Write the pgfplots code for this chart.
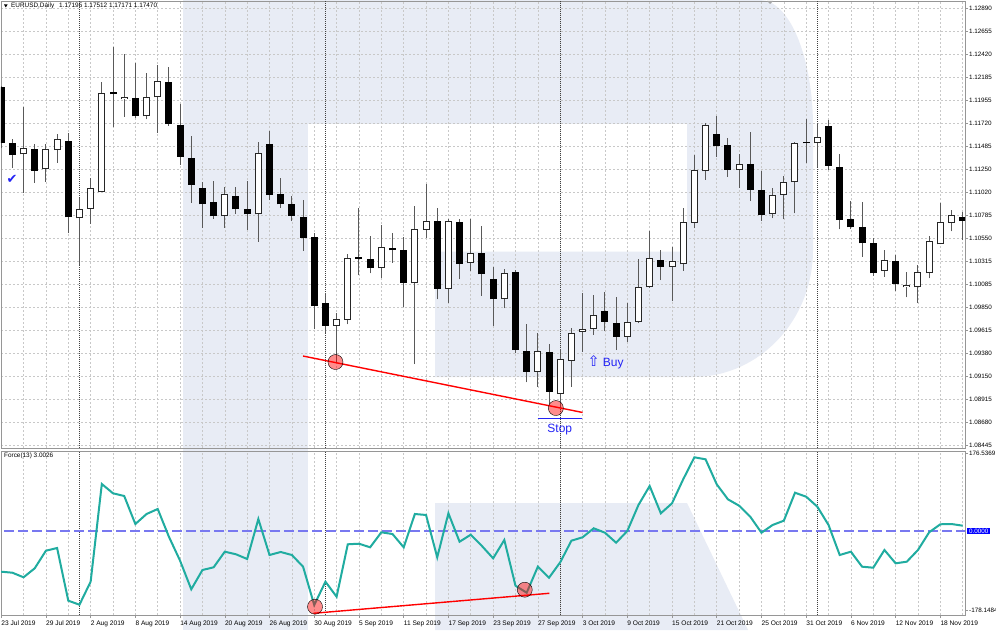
\documentclass[border=0pt]{standalone}
\usepackage{pgfplots}
\pgfplotsset{compat=1.18}
\usepackage{pgfplotstable}
\usepackage{fontspec}
\setmainfont{Liberation Sans}
\newfontfamily\dejavu{DejaVu Sans}
\definecolor{wm}{RGB}{232,236,245}
\definecolor{forceteal}{RGB}{32,172,160}
\definecolor{zeroblue}{RGB}{120,120,240}
\definecolor{mtblue}{RGB}{35,35,245}
\definecolor{gridgray}{RGB}{200,200,200}
\definecolor{framegray}{RGB}{150,150,150}

% bullish candles: index, open, high, low, close
\pgfplotstableread{
i o h l c
2 1.11404 1.11885 1.11015 1.11465
4 1.11252 1.11509 1.11126 1.11455
5 1.11448 1.11608 1.11319 1.11557
7 1.10755 1.10958 1.10280 1.10849
8 1.10849 1.11167 1.10697 1.11059
9 1.11025 1.12142 1.11022 1.12030
11 1.11963 1.12423 1.11786 1.11989
13 1.11790 1.12233 1.11760 1.11991
14 1.11983 1.12308 1.11624 1.12144
20 1.10775 1.11075 1.10659 1.11001
23 1.10795 1.11532 1.10517 1.11415
30 1.09661 1.09796 1.09285 1.09729
31 1.09725 1.10389 1.09678 1.10351
34 1.10247 1.10687 1.10153 1.10460
37 1.10095 1.10876 1.09273 1.10643
38 1.10639 1.11103 1.10552 1.10724
40 1.10037 1.10744 1.09898 1.10727
42 1.10298 1.10744 1.10222 1.10405
45 1.09932 1.10240 1.09841 1.10196
48 1.09194 1.09593 1.09045 1.09410
50 1.08969 1.09430 1.08839 1.09323
51 1.09309 1.09638 1.09045 1.09587
52 1.09603 1.09993 1.09400 1.09630
53 1.09630 1.09976 1.09570 1.09773
56 1.09552 1.09898 1.09502 1.09705
57 1.09705 1.10338 1.09688 1.10060
58 1.10055 1.10623 1.10047 1.10348
60 1.10260 1.10466 1.09910 1.10321
61 1.10287 1.10864 1.10222 1.10717
62 1.10710 1.11397 1.10653 1.11245
63 1.11232 1.11719 1.11144 1.11702
66 1.11245 1.11407 1.11065 1.11303
69 1.10795 1.11065 1.10755 1.10991
70 1.10991 1.11184 1.10744 1.11120
71 1.11120 1.11532 1.10805 1.11516
73 1.11516 1.11725 1.11278 1.11583
79 1.10219 1.10433 1.10162 1.10331
81 1.10054 1.10206 1.09952 1.10077
82 1.10054 1.10280 1.09892 1.10206
83 1.10199 1.10575 1.10145 1.10527
84 1.10491 1.10905 1.10491 1.10722
85 1.10710 1.10839 1.10623 1.10785
}\bull

% bearish candles: index, open, high, low, close
\pgfplotstableread{
i o h l c
0 1.12091 1.12098 1.11468 1.11516
1 1.11516 1.11557 1.11268 1.11397
3 1.11455 1.11506 1.11116 1.11235
6 1.11540 1.11624 1.10602 1.10765
10 1.12034 1.12497 1.11679 1.12014
12 1.11973 1.12328 1.11773 1.11790
15 1.12136 1.12286 1.11692 1.11710
16 1.11702 1.11912 1.11296 1.11380
17 1.11370 1.11590 1.10913 1.11093
18 1.11059 1.11126 1.10659 1.10895
19 1.10923 1.11133 1.10751 1.10775
21 1.10983 1.11075 1.10801 1.10844
22 1.10846 1.11136 1.10636 1.10795
24 1.11506 1.11641 1.10940 1.10991
25 1.10998 1.11161 1.10862 1.10897
26 1.10897 1.10981 1.10727 1.10778
27 1.10771 1.10940 1.10423 1.10558
28 1.10562 1.10608 1.09627 1.09864
29 1.09898 1.09991 1.09590 1.09661
32 1.10362 1.10856 1.10174 1.10341
33 1.10346 1.10575 1.10196 1.10247
35 1.10456 1.10602 1.10304 1.10430
36 1.10433 1.10560 1.09854 1.10101
39 1.10727 1.10862 1.09932 1.10037
41 1.10714 1.10744 1.10135 1.10290
43 1.10405 1.10676 1.09966 1.10186
44 1.10135 1.10257 1.09661 1.09932
46 1.10206 1.10230 1.09384 1.09417
47 1.09410 1.09678 1.09089 1.09194
49 1.09402 1.09478 1.08869 1.08991
54 1.09810 1.10009 1.09610 1.09705
55 1.09695 1.09959 1.09417 1.09552
59 1.10336 1.10433 1.10128 1.10265
64 1.11611 1.11796 1.11380 1.11492
65 1.11499 1.11567 1.11177 1.11245
67 1.11306 1.11634 1.10930 1.11042
68 1.11042 1.11235 1.10730 1.10788
72 1.11532 1.11760 1.11313 1.11516
74 1.11695 1.11753 1.11245 1.11286
75 1.11278 1.11404 1.10643 1.10737
76 1.10747 1.10930 1.10646 1.10663
77 1.10669 1.10917 1.10365 1.10501
78 1.10501 1.10552 1.10172 1.10196
80 1.10321 1.10382 1.10019 1.10087
86 1.10771 1.10819 1.10534 1.10727
}\bear

% Force index (13)
\pgfplotstableread{
i v
0 -91.6
1 -93.9
2 -104.3
3 -83.9
4 -44.2
5 -38.1
6 -157.1
7 -166.2
8 -114.2
9 106.5
10 85.5
11 79.4
12 16.1
13 38.7
14 50.0
15 -12.6
16 -66.8
17 -131.4
18 -87.8
19 -81.7
20 -46.4
21 -52.3
22 -62.9
23 27.4
24 -53.9
25 -47.1
26 -53.9
27 -80.3
28 -166.9
29 -114.2
30 -148.1
31 -29.7
32 -28.4
33 -36.5
34 -2.6
35 -6.5
36 -36.5
37 38.7
38 36.5
39 -59.1
40 40.3
41 -23.9
42 -8.0
43 -33.6
44 -61.4
45 -20.0
46 -123.3
47 -139.1
48 -80.3
49 -105.2
50 -70.4
51 -21.6
52 -13.9
53 6.4
54 -3.5
55 -26.1
56 0.3
57 59.1
58 102.0
59 40.3
60 62.9
61 117.1
62 166.8
63 162.3
64 105.8
65 71.9
66 57.5
67 32.6
68 -3.5
69 13.9
70 23.6
71 86.8
72 77.8
73 55.2
74 13.9
75 -53.9
76 -46.4
77 -80.3
78 -82.6
79 -42.6
80 -72.7
81 -69.0
82 -42.6
83 -2.6
84 15.5
85 16.1
86 12.3
}\force

\pgfplotsset{
  mt/.style={
    scale only axis, anchor=south west, width=964pt,
    xmin=-0.018, xmax=86.207,
    axis line style={framegray, line width=0.8pt},
    grid style={gridgray, line width=0.6pt, dash pattern=on 2pt off 2pt},
    tick style={framegray, line width=0.6pt},
    ytick pos=right, tick align=outside, major tick length=3pt,
    yticklabel style={font=\fontsize{6.3}{7}\selectfont, anchor=west, inner sep=0pt, xshift=1pt},
    /pgf/number format/assume math mode=true,
    extra x ticks={7,29,50,73}, extra x tick labels={},
    extra x tick style={grid=major, major grid style={black!75, line width=0.7pt, dash pattern=on 1pt off 1pt}, major tick length=0pt},
  },
}

\begin{document}
\begin{tikzpicture}
\useasboundingbox (0pt,0pt) rectangle (996pt,630pt);
\fill[white] (0pt,0pt) rectangle (996pt,630pt);
% watermark logo
\fill[wm] (183pt,0pt) rectangle (308pt,630pt);
\fill[wm] (183pt,630pt) -- (760pt,630pt) arc[start angle=90,end angle=0,x radius=53pt,y radius=127pt]
  -- (813pt,380pt) arc[start angle=0,end angle=-90,x radius=120pt,y radius=127pt]
  -- (435pt,253pt) -- (435pt,378.3pt) -- (687pt,378.3pt) -- (687pt,506pt) -- (183pt,506pt) -- cycle;
\fill[wm] (435pt,0pt) -- (435pt,127pt) -- (687pt,127pt) -- (748pt,0pt) -- cycle;

% ---------------- price panel
\begin{axis}[mt, at={(1pt,182pt)}, height=447pt,
  ymin=1.084222, ymax=1.12961,
  xtick={0,2,...,86}, xticklabels={}, xtick style={draw=none}, xmajorgrids,
  ytick={1.08445,1.08680,1.08915,1.09150,1.09380,1.09615,1.09850,1.10085,1.10315,1.10550,1.10785,1.11020,1.11250,1.11485,1.11720,1.11955,1.12185,1.12420,1.12655,1.12890},
  yticklabels={1.08445,1.08680,1.08915,1.09150,1.09380,1.09615,1.09850,1.10085,1.10315,1.10550,1.10785,1.11020,1.11250,1.11485,1.11720,1.11955,1.12185,1.12420,1.12655,1.12890},
  ymajorgrids,
]
% wicks
\addplot[draw=none, mark=none, forget plot, error bars/.cd, y dir=plus, y explicit, error mark=none,
  error bar style={draw=black!65, line width=1pt}] table[x=i, y=l, y error expr=\thisrow{h}-\thisrow{l}] \bull;
\addplot[draw=none, mark=none, forget plot, error bars/.cd, y dir=plus, y explicit, error mark=none,
  error bar style={draw=black!65, line width=1pt}] table[x=i, y=l, y error expr=\thisrow{h}-\thisrow{l}] \bear;
% bodies
\addplot[draw=none, mark=none, forget plot, error bars/.cd, y dir=plus, y explicit, error mark=none,
  error bar style={draw=black, line width=7pt}] table[x=i, y=c, y error expr=\thisrow{o}-\thisrow{c}] \bear;
\addplot[draw=none, mark=none, forget plot, error bars/.cd, y dir=plus, y explicit, error mark=none,
  error bar style={draw=black!85, line width=7pt}] table[x=i, y=o, y error expr=\thisrow{c}-\thisrow{o}] \bull;
\addplot[draw=none, mark=none, forget plot, error bars/.cd, y dir=plus, y explicit, error mark=none,
  error bar style={draw=white, line width=5pt, shorten <=1pt, shorten >=1pt}] table[x=i, y=o, y error expr=\thisrow{c}-\thisrow{o}] \bull;
% divergence line and points
\addplot[red, line width=1.4pt, forget plot] coordinates {(27.0,1.09356) (52.0,1.08783)};
\addplot[only marks, mark=*, mark size=7.5pt, mark options={draw=none, fill=red, fill opacity=0.45}, forget plot]
  coordinates {(29.90,1.09295) (49.61,1.08828)};
% stop line
\addplot[mtblue, line width=1.2pt, forget plot] coordinates {(47.99,1.08724) (51.98,1.08724)};
\node[text=mtblue, font=\fontsize{12}{12}\selectfont] at (axis cs:49.96,1.08605) {Stop};
\node[text=mtblue, anchor=west, inner sep=0pt, font=\fontsize{12}{12}\selectfont] at (axis cs:52.44,1.09288) {{\dejavu\fontsize{14.5}{14}\selectfont ⇧}\hspace{3pt}Buy};
\node[text=mtblue, font=\dejavu\fontsize{13}{13}\selectfont] at (axis cs:0.97,1.11154) {✔};
\end{axis}

% ---------------- Force panel
\begin{axis}[mt, at={(1pt,15pt)}, height=164pt,
  ymin=-189.45, ymax=181.05,
  xtick={0,4,...,84},
  xticklabels={23 Jul 2019,29 Jul 2019,2 Aug 2019,8 Aug 2019,14 Aug 2019,20 Aug 2019,26 Aug 2019,30 Aug 2019,5 Sep 2019,11 Sep 2019,17 Sep 2019,23 Sep 2019,27 Sep 2019,3 Oct 2019,9 Oct 2019,15 Oct 2019,21 Oct 2019,25 Oct 2019,31 Oct 2019,6 Nov 2019,12 Nov 2019,18 Nov 2019},
  minor xtick={2,6,...,86}, xmajorgrids, xminorgrids, minor grid style={gridgray, line width=0.6pt, dash pattern=on 2pt off 2pt},
  minor tick length=0pt, xtick pos=bottom,
  xticklabel style={font=\fontsize{6.6}{8}\selectfont, anchor=north west, inner sep=0pt, yshift=-3pt},
  ytick={-178.1484,176.5369}, yticklabels={-178.1484,176.5369},
]
\addplot[zeroblue, line width=1.3pt, dash pattern=on 10pt off 4pt, forget plot] coordinates {(-1,0) (88,0)};
\addplot[forceteal, line width=2pt, forget plot] table[x=i, y=v] \force;
\addplot[red, line width=1.4pt, forget plot] coordinates {(27.92,-185.6) (49.03,-140.4)};
\addplot[only marks, mark=*, mark size=7.5pt, mark options={draw=none, fill=red, fill opacity=0.45}, forget plot]
  coordinates {(28.07,-170.7) (46.83,-132.3)};
\end{axis}

% texts outside plot data
\fill[black] (4pt,625.5pt) -- (7.6pt,625.5pt) -- (5.8pt,622.5pt) -- cycle;
\node[anchor=west, inner sep=0pt, font=\fontsize{6.4}{7}\selectfont] at (11pt,624pt) {EURUSD,Daily\hspace{5pt}1.17195 1.17512 1.17171 1.17470};
\node[anchor=west, inner sep=0pt, font=\fontsize{6.4}{7}\selectfont] at (4pt,174.5pt) {Force(13) 3.0026};
\node[anchor=west, fill=blue, text=white, inner xsep=2pt, inner ysep=1pt, font=\fontsize{6.3}{7}\selectfont] at (967pt,98.9pt) {0.0000};
\fill[gray!70] (767pt,629pt) -- (773pt,629pt) -- (770pt,626pt) -- cycle;
\end{tikzpicture}
\end{document}
